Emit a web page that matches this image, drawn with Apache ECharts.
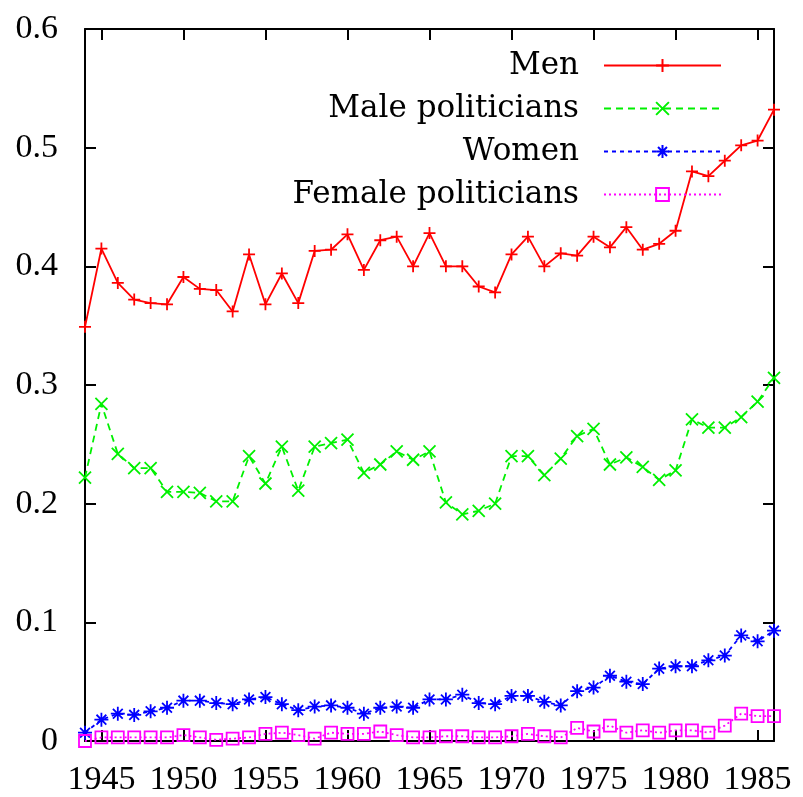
<!DOCTYPE html>
<html>
<head>
<meta charset="utf-8">
<script src="https://cdn.jsdelivr.net/npm/echarts@6/dist/echarts.min.js"></script>
<style>
  html, body { margin: 0; padding: 0; background: #fff; }
  #main { width: 803px; height: 797px; }
</style>
</head>
<body>
<div id="main"></div>
<script>
(function(){

	var years = [1944,1945,1946,1947,1948,1949,1950,1951,1952,1953,1954,1955,1956,1957,1958,1959,1960,1961,1962,1963,1964,1965,
		1966,1967,1968,1969,1970,1971,1972,1973,1974,1975,1976,1977,1978,1979,1980,1981,1982,1983,1984,1985,1986];
	var men = [0.349,0.415,0.386,0.372,0.369,0.368,0.391,0.381,0.380,0.362,0.410,0.368,0.394,0.369,0.413,0.414,0.427,0.397,0.422,0.425,0.400,0.428,
		0.400,0.400,0.383,0.378,0.410,0.425,0.400,0.411,0.409,0.425,0.416,0.433,0.414,0.419,0.430,0.480,0.476,0.489,0.502,0.506,0.532];
	var malePoliticians = [0.222,0.284,0.242,0.230,0.230,0.210,0.210,0.209,0.202,0.202,0.240,0.217,0.248,0.211,0.248,0.251,0.254,0.226,0.233,0.244,0.237,0.244,
		0.201,0.191,0.194,0.200,0.240,0.240,0.224,0.238,0.257,0.263,0.233,0.239,0.231,0.220,0.228,0.271,0.264,0.264,0.273,0.286,0.306];
	var women = [0.007,0.018,0.023,0.022,0.025,0.028,0.034,0.034,0.032,0.031,0.035,0.037,0.031,0.026,0.029,0.030,0.028,0.023,0.028,0.029,0.028,0.035,
		0.035,0.039,0.032,0.031,0.038,0.038,0.033,0.030,0.042,0.045,0.055,0.050,0.048,0.061,0.063,0.063,0.068,0.072,0.089,0.084,0.093];
	var femalePoliticians = [0.000,0.003,0.003,0.003,0.003,0.003,0.005,0.003,0.001,0.002,0.003,0.006,0.007,0.005,0.002,0.007,0.006,0.006,0.008,0.005,0.003,0.003,
		0.004,0.004,0.003,0.003,0.004,0.006,0.004,0.003,0.011,0.008,0.013,0.007,0.009,0.007,0.009,0.009,0.007,0.013,0.023,0.021,0.021];
	var xTicks = [1945,1950,1955,1960,1965,1970,1975,1980,1985];

	var tickFont = '"Liberation Serif", "DejaVu Serif", serif';
	var legendFont = '"DejaVu Serif", "Liberation Serif", serif';

	// gnuplot style point types
	var symPlus = 'path://M0,5L10,5M5,0L5,10';
	var symCross = 'path://M0,0L10,10M10,0L0,10';
	var symStar = 'path://M0,5L10,5M5,0L5,10M1.5,1.5L8.5,8.5M8.5,1.5L1.5,8.5';
	var symBox = 'path://M0,0L10,0L10,10L0,10Z';

	function pairs(vals){
		var out = [];
		for(var i = 0 ; i < years.length ; i++){
			out.push([years[i], vals[i]]);
		}
		return out;
	}

	function makeSeries(name, vals, color, dash, symbol, size){
		return {
			name : name,
			type : 'line',
			data : pairs(vals),
			symbol : symbol,
			symbolSize : size,
			symbolKeepAspect : true,
			showAllSymbol : true,
			itemStyle : { color : 'rgba(0,0,0,0)', borderColor : color, borderWidth : 1.8 },
			lineStyle : { color : color, width : 1.8, type : dash },
			emphasis : { disabled : true },
			animation : false
		};
	}

	var myChart = echarts.init(document.getElementById('main'), null, { renderer : 'canvas' });

	var axisLine = { show : true, onZero : false, lineStyle : { color : '#000', width : 2 } };
	var tickStyle = { inside : true, length : 11, lineStyle : { color : '#000', width : 2 } };

	var option = {
		backgroundColor : '#fff',
		grid : { left : 85, right : 29, top : 29, bottom : 56, containLabel : false },
		legend : {
			orient : 'vertical',
			align : 'right',
			right : 76,
			top : 45,
			itemWidth : 117,
			itemHeight : 16,
			itemGap : 12,
			selectedMode : false,
			textStyle : { fontFamily : legendFont, fontSize : 31, color : '#000', lineHeight : 31, padding : [0, 20, 0, 0] },
			data : ['Men', 'Male politicians', 'Women', 'Female politicians']
		},
		xAxis : [
			{
				type : 'value', min : 1944, max : 1986,
				axisLine : axisLine,
				axisTick : { inside : true, length : 11, lineStyle : { color : '#000', width : 2 }, customValues : xTicks },
				axisLabel : { customValues : xTicks, fontFamily : tickFont, fontSize : 34, color : '#000', margin : 22, formatter : function(v){ return String(v); } },
				splitLine : { show : false }
			},
			{
				type : 'value', min : 1944, max : 1986, position : 'top',
				axisLine : axisLine,
				axisTick : { inside : true, length : 11, lineStyle : { color : '#000', width : 2 }, customValues : xTicks },
				axisLabel : { show : false },
				splitLine : { show : false }
			}
		],
		yAxis : [
			{
				type : 'value', min : 0, max : 0.6, interval : 0.1,
				axisLine : axisLine,
				axisTick : tickStyle,
				axisLabel : { fontFamily : tickFont, fontSize : 34, color : '#000', margin : 27,
					formatter : function(v){ return v === 0 ? '0' : v.toFixed(1); } },
				splitLine : { show : false }
			},
			{
				type : 'value', min : 0, max : 0.6, interval : 0.1, position : 'right',
				axisLine : axisLine,
				axisTick : tickStyle,
				axisLabel : { show : false },
				splitLine : { show : false }
			}
		],
		series : [
			makeSeries('Men', men, '#ff0000', 'solid', symPlus, 12),
			makeSeries('Male politicians', malePoliticians, '#00f000', [7, 5], symCross, 12),
			makeSeries('Women', women, '#0000ff', [4, 4], symStar, 14),
			makeSeries('Female politicians', femalePoliticians, '#ff00ff', [2, 3], symBox, 12)
		]
	};
	myChart.setOption(option);

})();
</script>
</body>
</html>
